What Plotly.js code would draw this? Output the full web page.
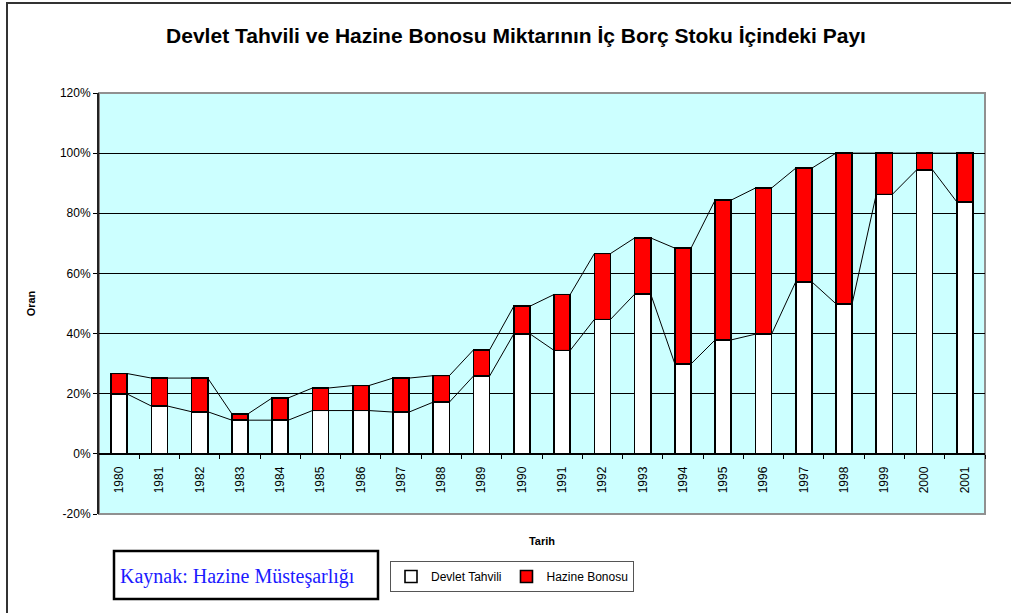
<!DOCTYPE html>
<html>
<head>
<meta charset="utf-8">
<script src="https://cdn.plot.ly/plotly-3.0.1.min.js"></script>
<style>html,body{margin:0;padding:0;background:#fff;}#chart{width:1011px;height:613px;}</style>
</head>
<body>
<div id="chart"></div>
<script>
// Data (percent share of domestic debt stock)
const years = ["1980","1981","1982","1983","1984","1985","1986","1987","1988","1989","1990",
               "1991","1992","1993","1994","1995","1996","1997","1998","1999","2000","2001"];
const devletTahvili = [19.9,15.9,14.0,11.2,11.2,14.4,14.4,13.9,17.2,25.9,39.9,
                       34.4,44.7,53.1,29.9,37.9,39.8,57.2,49.9,86.3,94.4,83.8];
const hazineBonosu  = [6.8,9.3,11.2,2.1,7.4,7.5,8.3,11.3,8.8,8.7,9.2,
                       18.6,21.9,18.7,38.5,46.5,48.6,37.8,50.1,13.7,5.6,16.2];
const yTicks = [-20,0,20,40,60,80,100,120];

const BARGAP = 0.6;
const idx = years.map((_, i) => i);
const totals = devletTahvili.map((v, i) => v + hazineBonosu[i]);

// series lines (connect bar tops, Excel-style)
function seriesLine(vals) {
  const hw = (1 - BARGAP) / 2;
  const xs = [], ys = [];
  vals.forEach((v, i) => { xs.push(i - hw, i + hw); ys.push(v, v); });
  return {x: xs, y: ys};
}
const l1 = seriesLine(devletTahvili);
const l2 = seriesLine(totals);

const traces = [
  {type: 'bar', name: 'Devlet Tahvili', x: idx, y: devletTahvili,
   marker: {color: '#ffffff', line: {color: '#000000', width: 1.6}}, hoverinfo: 'y'},
  {type: 'bar', name: 'Hazine Bonosu', x: idx, y: hazineBonosu,
   marker: {color: '#ff0000', line: {color: '#000000', width: 1.6}}, hoverinfo: 'y'},
  {type: 'scatter', mode: 'lines', x: l1.x, y: l1.y, line: {color: '#000', width: 1},
   showlegend: false, hoverinfo: 'skip'},
  {type: 'scatter', mode: 'lines', x: l2.x, y: l2.y, line: {color: '#000', width: 1},
   showlegend: false, hoverinfo: 'skip'}
];

const L = 99, R = 985, T = 93, B = 514, W = 1011, H = 613;
const px = v => (v - L) / (R - L);
const py = v => (B - v) / (B - T);
const zeroPos = (0 - yTicks[0]) / (yTicks[yTicks.length - 1] - yTicks[0]);
const xr = [-0.5, years.length - 0.5];
const font = 'Arial, "Liberation Sans", sans-serif';

const layout = {
  width: W, height: H,
  margin: {l: L, r: W - R, t: T, b: H - B, pad: 0},
  paper_bgcolor: '#ffffff',
  plot_bgcolor: '#ccffff',
  barmode: 'stack',
  bargap: BARGAP,
  font: {family: font, color: '#000', size: 12},
  title: {text: '<b>Devlet Tahvili ve Hazine Bonosu Miktarının İç Borç Stoku İçindeki Payı</b>',
          font: {family: font, size: 21, color: '#000'},
          x: 516 / W, xref: 'container', xanchor: 'center',
          y: 1 - 36 / H, yref: 'container', yanchor: 'middle'},
  xaxis: {range: xr, anchor: 'free', position: zeroPos,
          tickmode: 'array', tickvals: idx, ticktext: years, tickangle: -90,
          ticks: '', showgrid: false, zeroline: false, showline: true, linecolor: '#000',
          linewidth: 1, tickfont: {size: 12, family: font}, ticklabelstandoff: 7,
          minor: {tickmode: 'array',
                  tickvals: idx.slice(0, -1).map(i => i + 0.5).concat([years.length - 0.5]),
                  ticks: 'outside', ticklen: 4, tickcolor: '#000', tickwidth: 1, showgrid: false},
          fixedrange: true,
          title: {text: '<b>Tarih</b>', font: {size: 11, family: font}, standoff: 44}},
  yaxis: {range: [yTicks[0], yTicks[yTicks.length - 1]], tickmode: 'array', tickvals: yTicks,
          ticktext: yTicks.map(v => v + '%'),
          ticks: 'outside', ticklen: 4, tickcolor: '#000', showline: true, linecolor: '#222',
          linewidth: 2, gridcolor: '#000', gridwidth: 1, zeroline: true, zerolinecolor: '#000',
          zerolinewidth: 1, tickfont: {size: 12, family: font}, fixedrange: true,
          title: {text: '<b>Oran</b>', font: {size: 11, family: font}, standoff: 22}},
  legend: {orientation: 'h', x: px(390), y: py(561), xanchor: 'left', yanchor: 'top',
           bgcolor: '#ffffff', bordercolor: '#555', borderwidth: 1, itemwidth: 30,
           font: {size: 12, family: font}, traceorder: 'normal'},
  shapes: [
    {type: 'rect', xref: 'paper', yref: 'paper', x0: 0, x1: 1, y0: 0, y1: 1,
     line: {color: '#909090', width: 2}, layer: 'below'},
    {type: 'rect', xref: 'paper', yref: 'paper', x0: px(7), x1: px(1030), y0: py(630), y1: py(3),
     line: {color: '#333', width: 2}},
    {type: 'rect', xref: 'paper', yref: 'paper', x0: px(114), x1: px(378), y0: py(599), y1: py(551),
     line: {color: '#000', width: 2.5}, fillcolor: '#fff'}
  ],
  annotations: [
    {text: 'Kaynak: Hazine Müsteşarlığı', xref: 'paper', yref: 'paper',
     x: px(237), y: py(576), xanchor: 'center', yanchor: 'middle', showarrow: false,
     font: {family: '"Liberation Serif", "Times New Roman", serif', size: 20, color: '#1a1aff'}}
  ]
};

Plotly.newPlot('chart', traces, layout, {displayModeBar: false, staticPlot: true});
</script>
</body>
</html>
